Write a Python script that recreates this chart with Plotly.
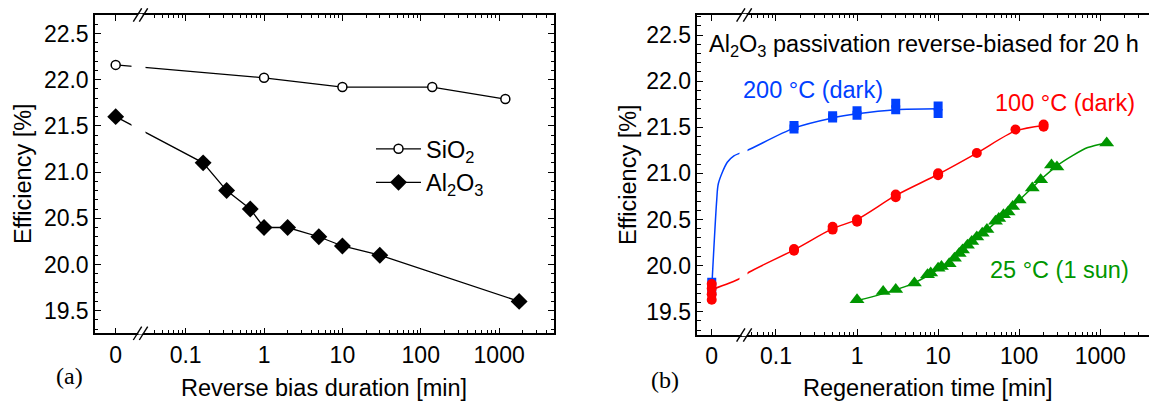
import plotly.graph_objects as go

# page body adds an 8 px margin, so the figure is drawn 8 px in from the corner
OFF = 8
W, H = 1157 - OFF, 402 - OFF

# ---------------- data: panel (a) ----------------
a_sio2_t = [0, 1, 10, 140, 1200]
a_sio2_eff = [22.16, 22.02, 21.92, 21.92, 21.79]
a_al2o3_t = [0, 0.167, 0.333, 0.667, 1, 2, 5, 10, 30, 1800]
a_al2o3_eff = [21.60, 21.10, 20.80, 20.60, 20.40, 20.40, 20.30, 20.20, 20.10, 19.60]

# ---------------- data: panel (b) ----------------
b200_t = [0, 0, 0.167, 0.167, 0.5, 0.5, 1, 1, 3, 3, 10, 10]
b200_eff = [19.72, 19.82, 21.48, 21.52, 21.60, 21.625, 21.63, 21.68, 21.69, 21.76, 21.65, 21.73]
b200_fit_t = [0, 0.0186, 0.0195, 0.0251, 0.0303, 0.0446, 0.167, 0.5, 1, 3, 10]
b200_fit_eff = [19.75, 20.71, 20.89, 21.12, 21.19, 21.25, 21.49, 21.60, 21.645, 21.69, 21.70]

b100_t = [0, 0, 0, 0, 0.167, 0.167, 0.5, 0.5, 1, 1, 3, 3, 10, 10, 30, 90, 200, 200]
b100_eff = [19.63, 19.69, 19.75, 19.80, 20.16, 20.18, 20.39, 20.42, 20.475, 20.50,
            20.74, 20.77, 20.98, 21.00, 21.22, 21.475, 21.505, 21.53]
b100_fit_t = [0, 0.036, 0.047, 0.167, 0.5, 1, 3, 10, 30, 90, 200]
b100_fit_eff = [19.74, 19.86, 19.93, 20.17, 20.40, 20.50, 20.76, 20.99, 21.22, 21.46, 21.52]

b25_t = [1, 2.1, 3, 5.1, 7.4, 8.1, 10, 11, 13.7, 15.9, 18.2, 20, 23, 26, 30, 35, 40,
         51, 56, 64, 73, 83, 100, 145, 184, 250, 292, 1200]
b25_eff = [19.63, 19.72, 19.74, 19.81, 19.90, 19.92, 19.97, 19.99, 20.02, 20.08, 20.13,
           20.17, 20.22, 20.26, 20.31, 20.35, 20.39, 20.48, 20.51, 20.55, 20.58, 20.64,
           20.71, 20.84, 20.93, 21.09, 21.07, 21.33]
b25_fit_t = [1, 2, 5, 10, 20, 50, 100, 200, 300, 450, 700, 1200]
b25_fit_eff = [19.62, 19.69, 19.81, 19.96, 20.16, 20.46, 20.71, 20.96, 21.09, 21.19, 21.28, 21.33]

x_tick_labels = ["0", "0.1", "1", "10", "100", "1000"]
x_tick_values = [0, 0.1, 1, 10, 100, 1000]
y_tick_values = [19.5, 20.0, 20.5, 21.0, 21.5, 22.0, 22.5]

# ---------------- styling / geometry ----------------
ZERO_A = 10 ** -1.893   # where "0" sits on the broken log axis of panel (a)
ZERO_B = 10 ** -1.792   # same for panel (b)
BLUE, RED, GREEN = "#0040ff", "#ff0000", "#009600"
FONT = "Liberation Sans, Arial, sans-serif"
SERIF = "Liberation Serif, Times New Roman, serif"
TS = 23.5   # text size
KS = 23     # tick label size


def px(x):
    return (x - OFF) / W


def py(y):
    return 1 - (y - OFF) / H


def on_axis(ts, zero):
    return [t if t > 0 else zero for t in ts]


def minor_vals(lo, hi):
    out = []
    for e in range(-3, 5):
        for k in range(2, 10):
            v = k * 10 ** e
            if lo < v < hi:
                out.append(v)
    return out


fig = go.Figure()

# panel (a)
fig.add_trace(go.Scatter(
    x=on_axis(a_sio2_t, ZERO_A), y=a_sio2_eff, mode="lines+markers",
    name="SiO<sub>2</sub>", xaxis="x", yaxis="y",
    line=dict(color="black", width=1.3),
    marker=dict(symbol="circle", size=9, color="white", line=dict(color="black", width=1.5))))
fig.add_trace(go.Scatter(
    x=on_axis(a_al2o3_t, ZERO_A), y=a_al2o3_eff, mode="lines+markers",
    name="Al<sub>2</sub>O<sub>3</sub>", xaxis="x", yaxis="y",
    line=dict(color="black", width=1.3),
    marker=dict(symbol="diamond", size=13, color="black")))

# panel (b) fit lines
for ft, fe, c in [(b200_fit_t, b200_fit_eff, BLUE), (b100_fit_t, b100_fit_eff, RED),
                  (b25_fit_t, b25_fit_eff, GREEN)]:
    fig.add_trace(go.Scatter(
        x=on_axis(ft, ZERO_B), y=fe, mode="lines", xaxis="x2", yaxis="y2",
        line=dict(color=c, width=1.5, shape="spline", smoothing=0.8),
        showlegend=False, hoverinfo="skip"))

# panel (b) markers
fig.add_trace(go.Scatter(
    x=on_axis(b200_t, ZERO_B), y=b200_eff, mode="markers", xaxis="x2", yaxis="y2",
    marker=dict(symbol="square", size=9, color=BLUE), showlegend=False))
fig.add_trace(go.Scatter(
    x=on_axis(b100_t, ZERO_B), y=b100_eff, mode="markers", xaxis="x2", yaxis="y2",
    marker=dict(symbol="circle", size=10, color=RED), showlegend=False))
fig.add_trace(go.Scatter(
    x=on_axis(b25_t, ZERO_B), y=b25_eff, mode="markers", xaxis="x2", yaxis="y2",
    marker=dict(symbol="triangle-up", size=13, color=GREEN), showlegend=False))


def xaxis_cfg(domain, rng, zero, minor_lo, anchor):
    return dict(
        type="log", domain=domain, range=rng, anchor=anchor,
        tickmode="array",
        tickvals=[v if v > 0 else zero for v in x_tick_values],
        ticktext=x_tick_labels,
        ticks="inside", ticklen=6, tickwidth=1.3, tickcolor="black",
        minor=dict(tickmode="array", tickvals=minor_vals(minor_lo, 10 ** rng[1]),
                   ticks="inside", ticklen=3.5, tickwidth=1.1, tickcolor="black"),
        showline=True, linecolor="black", linewidth=1.5, mirror="allticks",
        showgrid=False, zeroline=False,
        tickfont=dict(family=FONT, size=KS, color="black"),
        ticklabelstandoff=0,
    )


def yaxis_cfg(domain, rng, anchor):
    return dict(
        domain=domain, range=rng, anchor=anchor,
        tickmode="array", tickvals=y_tick_values, tickformat=".1f",
        ticks="inside", ticklen=6, tickwidth=1.3, tickcolor="black",
        minor=dict(dtick=0.1, tick0=19.5, ticks="inside", ticklen=3.5, tickwidth=1.1,
                   tickcolor="black"),
        showline=True, linecolor="black", linewidth=1.5, mirror="allticks",
        showgrid=False, zeroline=False,
        tickfont=dict(family=FONT, size=KS, color="black"),
        ticklabelstandoff=0,
    )


xa = xaxis_cfg([px(95), px(554)], [-2.157, 3.70], ZERO_A, 0.035, "y")
xb = xaxis_cfg([px(697.3), px(1155.5)], [-1.970, 3.681], ZERO_B, 0.045, "y2")
ya = yaxis_cfg([py(333.3), py(15)], [19.255, 22.70], "x")
yb = yaxis_cfg([py(335), py(15)], [19.247, 22.717], "x2")

shapes = []
# axis breaks: white gap through the plot area + "//" marks on top and bottom axes
for (g0, g1, s1, s2, ytop, ybot) in [(131.5, 145.5, 137.5, 143.5, 15, 333.3),
                                     (739.5, 747.5, 740.8, 747.5, 15, 335)]:
    shapes.append(dict(type="rect", xref="paper", yref="paper", layer="above",
                       x0=px(g0), x1=px(g1), y0=py(ybot - 2), y1=py(ytop + 2),
                       fillcolor="white", line=dict(width=0)))
    for yy in (ytop, ybot):
        shapes.append(dict(type="rect", xref="paper", yref="paper", layer="above",
                           x0=px(s1 + 0.8), x1=px(s2 - 0.8), y0=py(yy + 1.2), y1=py(yy - 1.2),
                           fillcolor="white", line=dict(width=0)))
        for sc in (s1, s2):
            shapes.append(dict(type="line", xref="paper", yref="paper", layer="above",
                               x0=px(sc - 4.2), y0=py(yy + 6.7), x1=px(sc + 4.2), y1=py(yy - 6.7),
                               line=dict(color="black", width=1.4)))


def ann(text, x, y, color="black", family=FONT, size=TS, xanchor="center", angle=0):
    return dict(text=text, x=px(x), y=py(y), xref="paper", yref="paper", showarrow=False,
                xanchor=xanchor, yanchor="middle", textangle=angle,
                font=dict(family=family, size=size, color=color))


annotations = [
    ann("Efficiency [%]", 23, 174, angle=-90),
    ann("Efficiency [%]", 628, 175, angle=-90),
    ann("Reverse bias duration [min]", 324, 388),
    ann("Regeneration time [min]", 927, 388),
    ann("(a)", 69, 376, family=SERIF, size=24),
    ann("(b)", 665, 380, family=SERIF, size=24),
    ann("Al<sub>2</sub>O<sub>3</sub> passivation reverse-biased for 20 h", 707, 45, xanchor="left"),
    ann("200 °C (dark)", 741, 90, color=BLUE, xanchor="left"),
    ann("100 °C (dark)", 993, 103, color=RED, xanchor="left"),
    ann("25 °C (1 sun)", 988, 270, color=GREEN, xanchor="left"),
]

fig.update_layout(
    width=W, height=H, margin=dict(l=0, r=0, t=0, b=0),
    paper_bgcolor="white", plot_bgcolor="white",
    xaxis=xa, yaxis=ya, xaxis2=xb, yaxis2=yb,
    shapes=shapes, annotations=annotations,
    showlegend=True,
    legend=dict(x=px(371), y=py(127), xanchor="left", yanchor="top",
                bgcolor="rgba(0,0,0,0)", borderwidth=0, itemwidth=45,
                font=dict(family=FONT, size=TS, color="black"), tracegroupgap=0),
)

fig.write_html("out.html")
